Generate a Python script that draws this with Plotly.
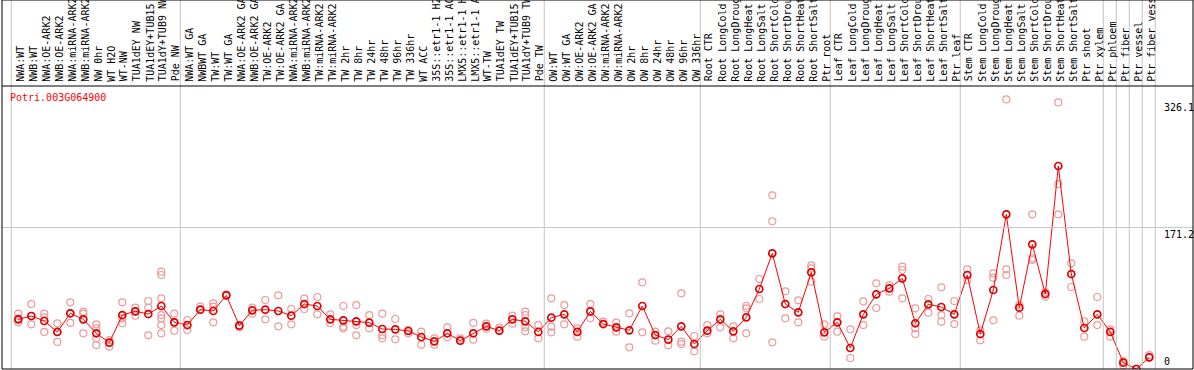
import plotly.graph_objects as go

gene_id = "Potri.003G064900"

categories = [
    "NWA:WT", "NWB:WT", "NWA:OE-ARK2", "NWB:OE-ARK2", "NWA:miRNA-ARK2", "NWB:miRNA-ARK2",
    "NW 0hr", "WT H2O", "WT-NW", "TUA1dEY NW", "TUA1dEY+TUB15", "TUA1dY+TUB9 NW", "Pde NW",
    "NWA:WT GA", "NWBWT GA", "TW:WT", "TW:WT GA", "NWA:OE-ARK2 GA", "NWB:OE-ARK2 GA",
    "TW:OE-ARK2", "TW:OE-ARK2 GA", "NWA:miRNA-ARK2", "NWB:miRNA-ARK2", "TW:miRNA-ARK2",
    "TW:miRNA-ARK2", "TW 2hr", "TW 8hr", "TW 24hr", "TW 48hr", "TW 96hr", "TW 336hr",
    "WT ACC", "35S::etr1-1 H2", "35S::etr1-1 AC", "LMX5::etr1-1 H", "LMX5::etr1-1 A",
    "WT-TW", "TUA1dEY TW", "TUA1dEY+TUB15", "TUA1dY+TUB9 TW", "Pde TW",
    "OW:WT", "OW:WT GA", "OW:OE-ARK2", "OW:OE-ARK2 GA", "OW:miRNA-ARK2", "OW:miRNA-ARK2",
    "OW 2hr", "OW 8hr", "OW 24hr", "OW 48hr", "OW 96hr", "OW 336hr",
    "Root CTR", "Root LongCold", "Root LongDroug", "Root LongHeat", "Root LongSalt",
    "Root ShortCold", "Root ShortDrou", "Root ShortHeat", "Root ShortSalt", "Ptr root",
    "Leaf CTR", "Leaf LongCold", "Leaf LongDroug", "Leaf LongHeat", "Leaf LongSalt",
    "Leaf ShortCold", "Leaf ShortDrou", "Leaf ShortHeat", "Leaf ShortSalt", "Ptr leaf",
    "Stem CTR", "Stem LongCold", "Stem LongDroug", "Stem LongHeat", "Stem LongSalt",
    "Stem ShortCold", "Stem ShortDrou", "Stem ShortHeat", "Stem ShortSalt", "Ptr shoot",
    "Ptr xylem", "Ptr phloem", "Ptr fiber", "Ptr vessel", "Ptr fiber vess",
]

means = [
    60.1, 64.1, 58.1, 44.8, 67.4, 60.1, 43.2, 31.9, 65.3, 69.8, 66.5, 76.2, 56.5,
    53.2, 71.8, 70.2, 89.1, 52.4, 71.0, 71.8, 70.2, 64.5, 78.6, 76.2, 60.1, 58.9, 57.7,
    56.1, 48.4, 48.0, 46.0, 38.7, 33.5, 43.2, 34.3, 43.2, 51.6, 46.4, 60.1, 57.7, 44.8,
    62.1, 66.1, 44.8, 69.8, 54.4, 50.4, 46.8, 76.2, 41.1, 35.5, 51.6, 30.2,
    46.4, 60.1, 45.6, 62.5, 96.8, 139.9, 78.6, 68.6, 117.0, 44.4,
    56.5, 25.4, 66.1, 90.3, 97.6, 109.7, 55.3, 78.2, 75.0, 66.1,
    113.7, 42.3, 95.6, 187.1, 74.2, 150.8, 90.7, 245.6, 114.9, 49.6, 66.1,
    44.8, 7.7, 0.0, 14.1,
]

replicates = [
    [66.9, 61.3, 56.5], [78.6, 64.1, 54.0], [66.9, 62.5, 44.8], [55.3, 44.8, 32.7],
    [80.7, 67.4, 55.7], [69.4, 66.9, 43.2], [54.0, 49.2, 37.1, 29.0], [35.1, 31.9, 27.0],
    [80.7, 61.3, 55.3], [74.2, 69.8, 64.5], [82.3, 74.2, 40.7],
    [117.8, 113.7, 85.5, 65.3, 61.3, 53.2, 43.2], [66.9, 56.5, 46.4],
    [59.3, 53.2, 47.2], [75.4, 71.8], [79.4, 75.4, 56.5], [90.3, 89.1], [53.2, 50.4],
    [74.2, 66.9], [83.5, 60.1], [89.1, 51.6], [72.6, 54.0], [85.1, 72.6], [87.1, 66.1],
    [66.1, 55.7], [76.2, 51.2, 49.2], [77.4, 53.2, 40.7], [65.3, 49.2], [66.9, 40.7, 37.1],
    [60.5, 35.9], [47.2, 43.2], [45.2, 29.4], [37.1, 29.4], [50.4, 38.3], [37.1, 34.3],
    [55.7, 35.5], [54.8, 48.8], [50.0, 46.4], [64.5, 54.8], [69.4, 65.3, 50.4, 45.6],
    [53.2, 37.1],
    [85.5, 51.2, 44.4], [77.4, 54.0], [49.2, 39.1], [78.6, 61.3], [57.3, 54.4],
    [56.1, 45.2], [67.4, 26.2], [104.9, 44.4], [45.2, 34.3], [45.6, 28.6],
    [91.5, 33.1, 30.2], [39.9, 21.4],
    [53.2, 43.2], [66.1, 50.4], [51.6, 37.1], [76.2, 73.4, 43.2], [108.9, 84.7],
    [210.1, 178.7, 32.3], [94.0, 61.3], [83.1, 56.5], [125.4, 121.8, 105.7], [54.0, 39.1],
    [63.7, 45.2], [48.0, 13.3], [81.9, 53.2], [103.6, 73.8], [101.6, 93.6],
    [123.8, 119.8, 85.5], [73.4, 49.2, 42.3], [84.7, 68.2], [98.8, 65.3, 57.3], [82.3, 54.4],
    [120.6, 107.7], [46.8, 34.7], [115.7, 110.5, 58.9], [326.1, 120.6, 113.7], [77.4, 64.5],
    [187.1, 133.9, 131.9], [92.8, 87.5], [322.5, 223.8, 187.1], [127.8, 99.2], [57.7, 39.1],
    [87.1, 53.2],
    [48.0, 39.1], [9.7, 4.4], [0.5], [16.9, 14.1],
]

# index of first category in each sample group (last entry closes the final group)
group_starts = [0, 13, 41, 53, 63, 73, 84, 85, 86, 87, 88]

y_tick_labels = ["326.1", "171.2", "0"]
y_tick_values = [326.1, 171.2, 0.0]

# ---------------- layout geometry ----------------
W, H = 1194, 370
ML, MR, MT, MB = 2, 1, 86, 1
plot_w = W - ML - MR
plot_h = H - MT - MB
first_px = 16.3
step_px = 13.0
x_lo = -first_px / step_px
x_hi = x_lo + plot_w / step_px
y_range = [0, 342.4]
FONT = "DejaVu Sans Mono"

rep_x, rep_y = [], []
for i, reps in enumerate(replicates):
    for v in reps:
        rep_x.append(i)
        rep_y.append(v)

fig = go.Figure()
fig.add_trace(go.Scatter(
    x=rep_x, y=rep_y, mode="markers",
    marker=dict(symbol="circle-open", size=7, color="#ec9a9a", line=dict(width=1.2)),
    hoverinfo="skip", showlegend=False,
))
fig.add_trace(go.Scatter(
    x=list(range(len(categories))), y=means, mode="lines+markers",
    line=dict(color="#ff0000", width=1),
    marker=dict(symbol="circle-open", size=7, color="#e00000", line=dict(width=1.7)),
    text=categories, showlegend=False,
))

top_paper = 1 + MT / plot_h
shapes = []
for g in group_starts:
    shapes.append(dict(type="line", xref="x", yref="paper", x0=g - 0.54, x1=g - 0.54,
                       y0=0, y1=top_paper, line=dict(color="#c4c4c4", width=1)))
shapes.append(dict(type="line", xref="paper", yref="y", x0=0, x1=1,
                   y0=y_tick_values[1], y1=y_tick_values[1],
                   line=dict(color="#c8c8c8", width=1)))
shapes.append(dict(type="line", xref="paper", yref="paper", x0=0, x1=1, y0=1, y1=1,
                   line=dict(color="black", width=1)))
shapes.append(dict(type="rect", xref="paper", yref="paper", x0=0, x1=1, y0=0, y1=top_paper,
                   line=dict(color="black", width=1)))

annotations = []
for i, lab in enumerate(categories):
    annotations.append(dict(
        x=i, xref="x", y=1 + 3.5 / plot_h, yref="paper", text=lab, textangle=-90,
        showarrow=False, xanchor="center", yanchor="bottom", borderpad=0, xshift=2,
        font=dict(family=FONT, size=10, color="black"),
    ))

annotations.append(dict(
    x=(9.3 - ML) / plot_w, xref="paper", y=(H - MB - 97) / plot_h, yref="paper",
    text=gene_id, showarrow=False, xanchor="left", yanchor="middle", borderpad=0,
    font=dict(family=FONT, size=10, color="#ff0000"),
))

label_x = (1163 - ML) / plot_w
anchors = ["top", "top", "bottom"]
shifts = [-2, 0, 1]
for lab, val, anc, sh in zip(y_tick_labels, y_tick_values, anchors, shifts):
    annotations.append(dict(
        x=label_x, xref="paper", y=val, yref="y", text=lab, showarrow=False,
        xanchor="left", yanchor=anc, yshift=sh, borderpad=0,
        font=dict(family=FONT, size=10, color="black"),
    ))

fig.update_layout(
    width=W, height=H,
    margin=dict(l=ML, r=MR, t=MT, b=MB, autoexpand=False),
    paper_bgcolor="white", plot_bgcolor="rgba(0,0,0,0)",
    xaxis=dict(range=[x_lo, x_hi], visible=False, fixedrange=True),
    yaxis=dict(range=y_range, visible=False, fixedrange=True),
    shapes=shapes, annotations=annotations, showlegend=False,
)

fig.write_html(
    "out.html",
    config={"displayModeBar": False},
    post_script="document.body.style.margin='0';document.body.style.overflow='hidden';",
)
